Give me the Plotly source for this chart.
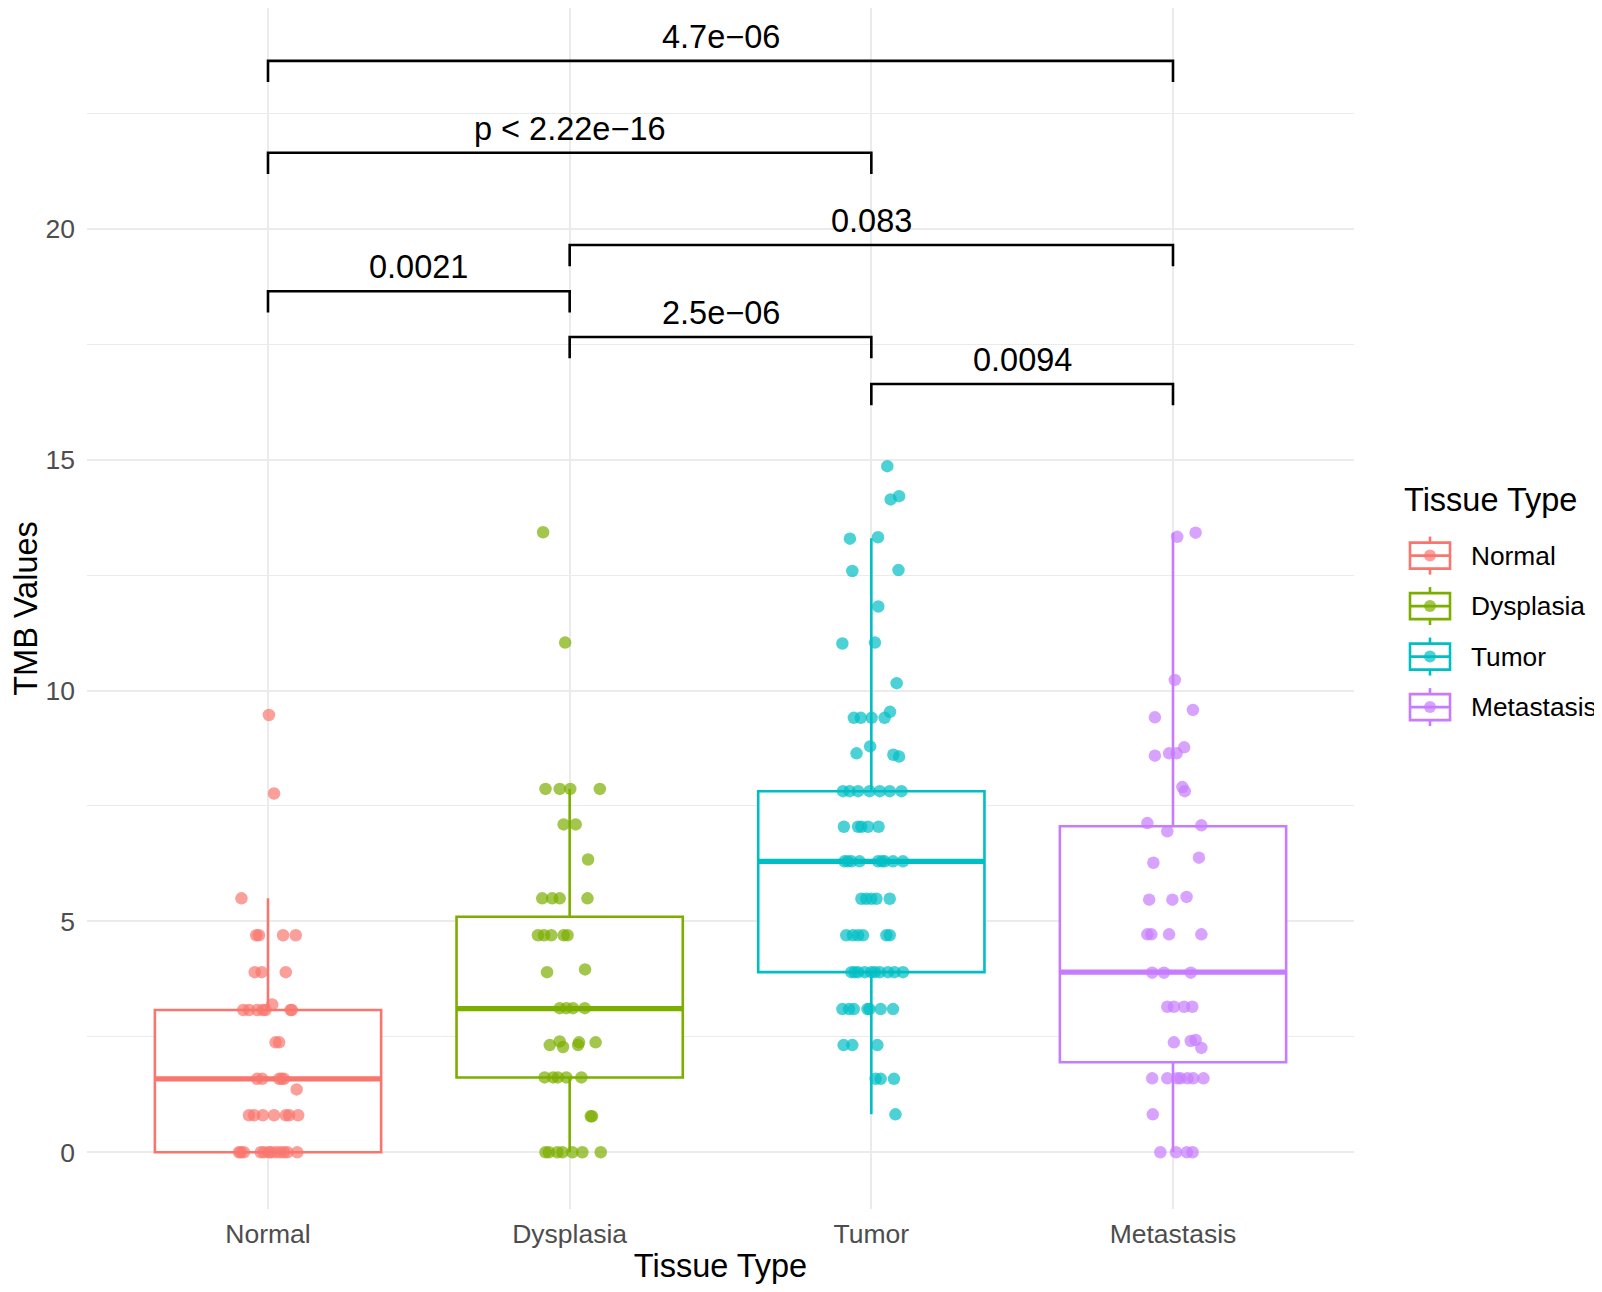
import plotly.graph_objects as go

# ---------------- data ----------------
categories = ["Normal", "Dysplasia", "Tumor", "Metastasis"]
colors = ["#F8766D", "#7CAE00", "#00BFC4", "#C77CFF"]

tmb_normal = [0]*12 + [0.80]*7 + [1.36] + [1.59]*5 + [2.38]*2 + [3.08]*7 + [3.20] + [3.90]*3 + [4.70]*4 + [5.50, 7.77, 9.47]
jitter_normal = [-0.096, -0.090, -0.080, -0.024, -0.013, 0.003, 0.010, 0.026, 0.040, 0.053, 0.064, 0.097,
                 -0.063, -0.046, -0.017, 0.020, 0.059, 0.070, 0.100,
                 0.095,
                 -0.036, -0.019, 0.037, 0.045, 0.053,
                 0.025, 0.037,
                 -0.082, -0.063, -0.035, -0.017, -0.008, 0.075, 0.079,
                 0.014,
                 -0.044, -0.021, 0.059,
                 -0.039, -0.030, 0.050, 0.092,
                 -0.088, 0.020, 0.003]

tmb_dysplasia = [0]*7 + [0.78]*2 + [1.62]*5 + [2.32, 2.40, 2.28, 2.32, 2.38, 2.38] + [3.12]*4 + [3.90, 3.96] + [4.70]*5 + [5.50]*4 + [6.34] + [7.10]*2 + [7.87]*4 + [11.04, 13.43]
jitter_dysplasia = [-0.080, -0.069, -0.041, -0.024, 0.009, 0.042, 0.103,
                    0.070, 0.074,
                    -0.083, -0.055, -0.039, -0.011, 0.039,
                    -0.066, -0.033, -0.022, 0.028, 0.031, 0.086,
                    -0.033, -0.011, 0.011, 0.050,
                    -0.075, 0.051,
                    -0.105, -0.085, -0.061, -0.020, -0.007,
                    -0.091, -0.058, -0.033, 0.059,
                    0.061,
                    -0.020, 0.020,
                    -0.080, -0.033, 0.002, 0.100,
                    -0.015, -0.088]

tmb_tumor = [14.86, 14.14, 14.21, 13.29, 13.32, 12.59, 12.61, 11.82, 11.02, 11.04, 10.16,
             9.41, 9.41, 9.41, 9.41, 9.54, 8.64, 8.79, 8.61, 8.57] + [7.82]*7 + [7.05]*5 + [6.30]*9 + [5.49]*5 + [4.70]*6 + [3.90]*10 + [3.10]*7 + [2.32]*3 + [1.59]*3 + [0.82]
jitter_tumor = [0.053, 0.064, 0.092, -0.071, 0.022, -0.063, 0.090, 0.023, -0.096, 0.012, 0.084,
                -0.058, -0.035, 0.001, 0.044, 0.062, -0.049, -0.004, 0.073, 0.092,
                -0.094, -0.072, -0.044, -0.006, 0.028, 0.061, 0.100,
                -0.091, -0.044, -0.033, -0.011, 0.024,
                -0.089, -0.078, -0.066, -0.039, 0.022, 0.035, 0.044, 0.072, 0.105,
                -0.033, -0.017, 0.000, 0.017, 0.061,
                -0.083, -0.061, -0.044, -0.028, 0.050, 0.061,
                -0.066, -0.055, -0.044, -0.022, 0.000, 0.012, 0.028, 0.055, 0.077, 0.105,
                -0.096, -0.074, -0.058, -0.013, -0.006, 0.031, 0.072,
                -0.092, -0.063, 0.020,
                0.014, 0.031, 0.075,
                0.080]

tmb_metastasis = [13.33, 13.42, 10.23, 9.42, 9.58, 8.59, 8.64, 8.64, 8.77, 7.91, 7.82, 7.13, 6.95, 7.08,
                  6.27, 6.38, 5.47, 5.47, 5.53] + [4.72]*4 + [3.89]*3 + [3.15]*4 + [2.38, 2.41, 2.43, 2.26] + [1.60]*7 + [0.82] + [0]*4
jitter_metastasis = [0.014, 0.075, 0.006, -0.060, 0.066, -0.060, -0.013, 0.012, 0.037, 0.031, 0.039, -0.085, -0.019, 0.094,
                     -0.065, 0.086, -0.079, -0.002, 0.045,
                     -0.085, -0.072, -0.013, 0.094,
                     -0.069, -0.030, 0.059,
                     -0.019, 0.003, 0.037, 0.064,
                     0.003, 0.059, 0.075, 0.094,
                     -0.069, -0.019, 0.014, 0.025, 0.048, 0.067, 0.101,
                     -0.067,
                     -0.042, 0.010, 0.046, 0.065]

values = [tmb_normal, tmb_dysplasia, tmb_tumor, tmb_metastasis]
jitters = [jitter_normal, jitter_dysplasia, jitter_tumor, jitter_metastasis]

# box statistics as drawn in the picture
box_q1 = [0.00, 1.62, 3.90, 1.95]
box_median = [1.59, 3.11, 6.30, 3.90]
box_q3 = [3.08, 5.10, 7.82, 7.06]
box_lower = [0.00, 0.00, 0.82, 0.00]
box_upper = [5.50, 7.87, 13.30, 13.42]

# pairwise comparison brackets
bracket_g1 = ["Normal", "Normal", "Dysplasia", "Normal", "Dysplasia", "Tumor"]
bracket_g2 = ["Metastasis", "Tumor", "Metastasis", "Dysplasia", "Tumor", "Metastasis"]
bracket_y = [23.64, 21.65, 19.65, 18.65, 17.66, 16.64]
bracket_labels = ["4.7e\u221206", "p < 2.22e\u221216", "0.083", "0.0021", "2.5e\u221206", "0.0094"]

# ---------------- figure ----------------
FONT = "Liberation Sans, Arial, Helvetica, sans-serif"
# the page body has an 8 px margin, so the figure is 16 px smaller than the window
W, H = 1594, 1276
ML, MR, MT, MB = 79, 248, 0, 75
PW, PH = W - ML - MR, H - MT - MB
BOX_W = 0.75
TICK_LEN = 0.46
pos = {c: i + 1 for i, c in enumerate(categories)}


def px(xpix):
    return (xpix - ML) / PW


def py(ypix):
    return (H - MB - ypix) / PH


fig = go.Figure()

# boxes
for i, cat in enumerate(categories):
    fig.add_trace(go.Box(
        x=[pos[cat]], q1=[box_q1[i]], median=[box_median[i]], q3=[box_q3[i]],
        lowerfence=[box_lower[i]], upperfence=[box_upper[i]],
        name=cat, width=BOX_W, whiskerwidth=0, boxpoints=False,
        fillcolor="white", line=dict(color=colors[i], width=2.6),
        showlegend=False, hoverinfo="skip",
    ))

# thicker median lines (ggplot fatten)
for i, cat in enumerate(categories):
    fig.add_trace(go.Scatter(
        x=[pos[cat] - BOX_W / 2, pos[cat] + BOX_W / 2], y=[box_median[i], box_median[i]],
        mode="lines", line=dict(color=colors[i], width=5.2),
        showlegend=False, hoverinfo="skip",
    ))

# jittered points
for i, cat in enumerate(categories):
    fig.add_trace(go.Scatter(
        x=[pos[cat] + j for j in jitters[i]], y=values[i],
        mode="markers", name=cat,
        marker=dict(color=colors[i], size=12.5, opacity=0.7, line=dict(width=0)),
        showlegend=False, hoverinfo="y",
    ))

# brackets
for g1, g2, yb, lab in zip(bracket_g1, bracket_g2, bracket_y, bracket_labels):
    x1, x2 = pos[g1], pos[g2]
    fig.add_trace(go.Scatter(
        x=[x1, x1, x2, x2], y=[yb - TICK_LEN, yb, yb, yb - TICK_LEN],
        mode="lines", line=dict(color="black", width=2.6),
        showlegend=False, hoverinfo="skip",
    ))
    fig.add_annotation(
        x=(x1 + x2) / 2, y=yb, text=lab, showarrow=False,
        xanchor="center", yanchor="bottom", yshift=4,
        font=dict(family=FONT, size=32.5, color="black"),
    )

# legend (ggplot-style keys)
fig.add_annotation(
    xref="paper", yref="paper", x=px(1394), y=py(492), text="Tissue Type",
    showarrow=False, xanchor="left", yanchor="middle",
    font=dict(family=FONT, size=32.5, color="black"),
)
key_x0, key_x1 = 1402, 1442
key_cx = (key_x0 + key_x1) / 2
for i, cat in enumerate(categories):
    cy = 547.6 + i * 50.5
    lw = 2.6
    fig.add_shape(type="line", xref="paper", yref="paper",
                  x0=px(key_cx), x1=px(key_cx), y0=py(cy - 19), y1=py(cy + 19),
                  line=dict(color=colors[i], width=lw))
    fig.add_shape(type="rect", xref="paper", yref="paper",
                  x0=px(key_x0), x1=px(key_x1), y0=py(cy - 13), y1=py(cy + 13),
                  fillcolor="white", line=dict(color=colors[i], width=lw))
    fig.add_shape(type="line", xref="paper", yref="paper",
                  x0=px(key_x0), x1=px(key_x1), y0=py(cy), y1=py(cy),
                  line=dict(color=colors[i], width=lw))
    fig.add_shape(type="circle", xref="paper", yref="paper",
                  x0=px(key_cx - 6), x1=px(key_cx + 6), y0=py(cy - 6), y1=py(cy + 6),
                  fillcolor=colors[i], opacity=0.7, line=dict(width=0))
    fig.add_annotation(
        xref="paper", yref="paper", x=px(1461), y=py(cy), text=cat,
        showarrow=False, xanchor="left", yanchor="middle",
        font=dict(family=FONT, size=26.3, color="black"),
    )

fig.update_layout(
    width=W, height=H,
    margin=dict(l=ML, r=MR, t=MT, b=MB),
    paper_bgcolor="white", plot_bgcolor="white",
    boxmode="overlay", showlegend=False,
    font=dict(family=FONT, color="black"),
)

fig.update_xaxes(
    range=[0.4, 4.6], tickmode="array", tickvals=[1, 2, 3, 4], ticktext=categories,
    showgrid=True, gridcolor="#EBEBEB", gridwidth=2, zeroline=False, showline=False, ticks="",
    ticklabelstandoff=6,
    tickfont=dict(family=FONT, size=26.5, color="#4D4D4D"),
    title=dict(text="Tissue Type", font=dict(family=FONT, size=32.5, color="black"), standoff=12),
)
fig.update_yaxes(
    range=[-1.23, 24.785], tickmode="array", tickvals=[0, 5, 10, 15, 20],
    showgrid=True, gridcolor="#EBEBEB", gridwidth=2, zeroline=False, showline=False, ticks="",
    ticklabelstandoff=11,
    minor=dict(tickmode="array", tickvals=[2.5, 7.5, 12.5, 17.5, 22.5], showgrid=True,
               gridcolor="#EBEBEB", gridwidth=1.1),
    tickfont=dict(family=FONT, size=26.5, color="#4D4D4D"),
    title=dict(text="TMB Values", font=dict(family=FONT, size=32.5, color="black"), standoff=16),
)

fig.write_html("out.html")
